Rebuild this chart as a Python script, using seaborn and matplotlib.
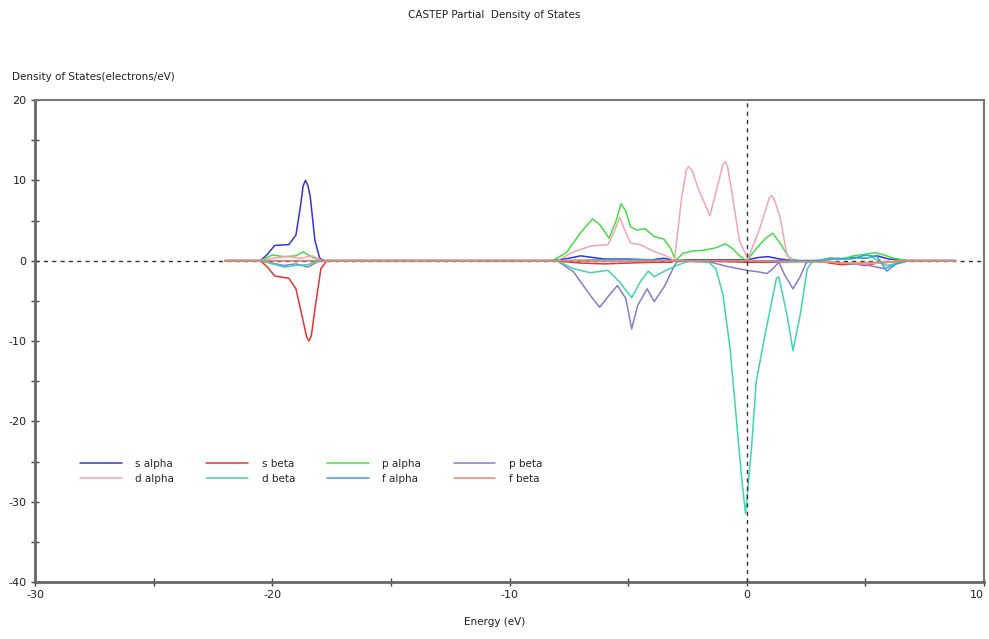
import numpy as np
import pandas as pd
import matplotlib
matplotlib.use("Agg")
import matplotlib.pyplot as plt
import seaborn as sns

# Partial DOS values (energy in eV, DOS in electrons/eV)
s_alpha_e = [-22, -20.5, -20.2, -19.9, -19.3, -19.0, -18.8, -18.7, -18.6, -18.5, -18.4, -18.2,
             -18.0, -17.8, -8.2, -7.5, -7.0, -6.5, -6.0, -5.0, -4.0, -3.5, -3.0, -2.5, -1.0,
             0.0, 0.5, 0.9, 1.4, 2.0, 3.0, 3.5, 4.0, 4.5, 5.0, 5.5, 6.0, 6.5, 6.8, 8.8]
s_alpha = [0, 0, 0.8, 1.9, 2.0, 3.2, 7.0, 9.3, 10.0, 9.4, 8.0, 2.5,
           0.3, 0, 0, 0.3, 0.6, 0.4, 0.2, 0.2, 0.1, 0.3, 0, 0.1, 0.1,
           0.1, 0.4, 0.5, 0.2, 0, 0, 0.3, 0.2, 0.4, 0.3, 0.6, 0.2, 0.1, 0, 0]

s_beta_e = [-22, -20.5, -20.2, -19.9, -19.3, -19.0, -18.7, -18.55, -18.45, -18.35, -18.2,
            -17.95, -17.7, -8.2, -7.0, -6.0, -5.0, -4.0, -3.2, -3.0, -1.0, 0, 1.0, 2.0, 3.0,
            3.5, 4.0, 4.5, 5.0, 5.5, 6.0, 6.5, 6.8, 8.8]
s_beta = [0, 0, -0.8, -1.9, -2.2, -3.5, -7.5, -9.5, -10.0, -9.3, -6.0,
          -1.0, 0, 0, -0.3, -0.4, -0.3, -0.2, -0.2, 0, -0.1, -0.2, -0.2, -0.1, 0,
          -0.3, -0.5, -0.4, -0.6, -0.3, -0.2, -0.1, 0, 0]

p_alpha_e = [-22, -20.5, -20.0, -19.5, -19.0, -18.7, -18.3, -17.9, -8.2, -7.6, -7.0, -6.5,
             -6.2, -5.8, -5.5, -5.3, -5.1, -4.9, -4.6, -4.3, -3.9, -3.5, -3.2, -3.0, -2.7,
             -2.3, -1.8, -1.3, -0.9, -0.6, -0.3, 0.0, 0.4, 0.8, 1.1, 1.4, 1.8, 2.2, 3.0,
             3.5, 4.0, 4.5, 5.0, 5.4, 5.8, 6.2, 6.8, 8.8]
p_alpha = [0, 0, 0.7, 0.5, 0.6, 1.1, 0.4, 0, 0, 1.0, 3.5, 5.2,
           4.5, 2.8, 5.0, 7.1, 6.2, 4.2, 3.8, 4.0, 3.0, 2.7, 1.5, 0, 0.9,
           1.2, 1.3, 1.6, 2.1, 1.5, 0.6, 0, 1.5, 2.8, 3.4, 2.2, 0.3, 0, 0,
           0.3, 0.2, 0.6, 0.8, 1.0, 0.7, 0.3, 0, 0]

p_beta_e = [-22, -20.5, -20.0, -19.5, -19.0, -18.5, -18.0, -8.2, -8.0, -7.3, -6.6, -6.2,
            -5.8, -5.45, -5.1, -4.85, -4.6, -4.2, -3.9, -3.45, -3.05, -2.9, -1.5, -0.85,
            0.0, 0.5, 0.85, 1.1, 1.35, 1.6, 1.95, 2.25, 2.5, 2.8, 4.0, 5.0, 5.8, 6.3, 6.8, 8.8]
p_beta = [0, 0, -0.3, -0.6, -0.4, -0.8, 0, 0, 0, -1.4, -4.3, -5.8,
          -4.3, -3.1, -4.7, -8.5, -5.6, -3.5, -5.1, -3.1, -0.6, 0, -0.2, -0.7,
          -1.2, -1.4, -1.6, -1.0, -0.2, -1.8, -3.5, -2.0, -0.3, 0, -0.3, -0.5, -1.0, -0.4, 0, 0]

d_alpha_e = [-22, -20.5, -20.0, -19.4, -18.8, -18.3, -17.9, -8.2, -8.0, -7.3, -6.6, -5.85,
             -5.6, -5.35, -5.1, -4.9, -4.5, -3.95, -3.4, -3.05, -2.75, -2.55, -2.45, -2.3,
             -2.05, -1.55, -1.3, -1.0, -0.9, -0.8, -0.6, -0.3, 0.05, 0.55, 0.95, 1.05, 1.15,
             1.4, 1.7, 2.0, 3.0, 4.0, 5.0, 6.0, 6.8, 8.8]
d_alpha = [0, 0, 0.3, 0.5, 0.3, 0.6, 0, 0, 0, 1.1, 1.8, 2.0,
           3.5, 5.4, 3.5, 2.2, 2.0, 1.2, 0.6, 0, 7.7, 11.3, 11.7, 11.2,
           9.0, 5.6, 8.5, 12.0, 12.3, 11.6, 8.0, 2.4, 0.2, 4.0, 7.8, 8.1, 7.7,
           5.5, 0.6, 0, 0, -0.3, -0.4, -0.2, 0, 0]

d_beta_e = [-22, -20.5, -20.0, -19.5, -19.0, -18.5, -18.0, -8.2, -8.0, -7.3, -6.6, -5.85,
            -5.35, -4.85, -4.5, -4.15, -3.9, -3.4, -2.95, -2.5, -2.0, -1.6, -1.3, -1.0,
            -0.7, -0.45, -0.2, -0.05, 0.2, 0.4, 0.8, 1.25, 1.35, 1.7, 1.95, 2.25, 2.55,
            2.8, 3.5, 4.5, 5.3, 5.9, 6.4, 6.8, 8.8]
d_beta = [0, 0, -0.4, -0.8, -0.6, -0.5, 0, 0, 0, -1.0, -1.5, -1.2,
          -2.7, -4.6, -2.7, -1.3, -2.0, -1.2, -0.6, -0.1, -0.1, -0.2, -1.0, -4.3,
          -11.0, -19.3, -27.5, -31.5, -23.4, -15.0, -8.8, -2.2, -2.0, -6.8, -11.2, -6.8, -1.0,
          0, 0.2, 0.3, 0.4, -0.6, -0.3, 0, 0]

f_alpha_e = [-22, -8.2, -6, -4, -3, 0, 2, 3.2, 3.8, 4.4, 5.0, 5.5, 5.9, 6.3, 6.8, 8.8]
f_alpha = [0, 0, 0.1, 0.1, 0, 0, 0, 0, 0.3, 0.2, 0.7, 0.5, -1.3, -0.4, 0, 0]

f_beta_e = [-22, -8.2, -5, -3, 0, 1, 3.5, 4.5, 5.5, 6.8, 8.8]
f_beta = [0, 0, -0.1, 0, 0, -0.1, -0.2, -0.3, -0.2, 0, 0]

labels = ["s alpha", "s beta", "p alpha", "p beta", "d alpha", "d beta", "f alpha", "f beta"]
energies = [s_alpha_e, s_beta_e, p_alpha_e, p_beta_e, d_alpha_e, d_beta_e, f_alpha_e, f_beta_e]
values = [s_alpha, s_beta, p_alpha, p_beta, d_alpha, d_beta, f_alpha, f_beta]
colors = ["#3434d4", "#e43434", "#44dd44", "#8a7ad2", "#f4a4b0", "#3ed6ac", "#34a2e2", "#f08464"]

sns.set_style("ticks")
plt.rcParams["font.family"] = ["DejaVu Sans"]
plt.rcParams["axes.unicode_minus"] = False

fig = plt.figure(figsize=(9.89, 6.39), dpi=100)
ax = fig.add_axes([35 / 989, 1 - 582 / 639, 949 / 989, 482 / 639])

# zero reference lines
ax.axhline(0, color="#333333", lw=1.0, ls=(0, (3, 3)), zorder=1)

for e, v, lab, c in zip(energies, values, labels, colors):
    df = pd.DataFrame({"Energy": e, "DOS": v})
    sns.lineplot(data=df, x="Energy", y="DOS", color=c, lw=1.1, label=lab,
                 estimator=None, ax=ax, zorder=2)

ax.axvline(0, color="#333333", lw=1.0, ls=(0, (3, 3)), zorder=3)

ax.set_xlim(-30, 10)
ax.set_ylim(-40, 20)
ax.set_xticks([-30, -20, -10, 0, 10])
ax.set_xticks([-25, -15, -5, 5], minor=True)
ax.set_yticks([20, 10, 0, -10, -20, -30, -40])
ax.set_yticks([15, 5, -5, -15, -25, -35], minor=True)
ax.tick_params(axis="both", which="both", direction="inout", length=6, width=1,
               colors="#444444", labelsize=8, labelcolor="#222222", pad=3)
ax.set_xlabel("")
ax.set_ylabel("")
# the last x label sits at the figure edge, keep it inside
ax.get_xticklabels()[-1].set_horizontalalignment("right")

for side in ["left", "bottom"]:
    ax.spines[side].set_color("#666666")
    ax.spines[side].set_linewidth(2)
for side in ["top", "right"]:
    ax.spines[side].set_color("#777777")
    ax.spines[side].set_linewidth(1.5)

# legend laid out like the reference (4 columns, filled row by row)
handles, labs = ax.get_legend_handles_labels()
order = [0, 4, 1, 5, 2, 6, 3, 7]
ax.legend([handles[i] for i in order], [labs[i] for i in order], ncol=4,
          loc="upper left", bbox_to_anchor=(0.043, 0.264), frameon=False,
          fontsize=7.5, handlelength=4.0, handletextpad=1.3, columnspacing=3.1,
          labelspacing=0.45, borderaxespad=0)

fig.text(0.5, 1 - 15 / 639, "CASTEP Partial  Density of States", ha="center", va="center",
         fontsize=7.5, color="#222222")
fig.text(12 / 989, 1 - 77 / 639, "Density of States(electrons/eV)", ha="left", va="center",
         fontsize=7.5, color="#222222")
fig.text(495 / 989, 1 - 622 / 639, "Energy (eV)", ha="center", va="center",
         fontsize=7.5, color="#222222")

fig.savefig("out.png", dpi=100)
